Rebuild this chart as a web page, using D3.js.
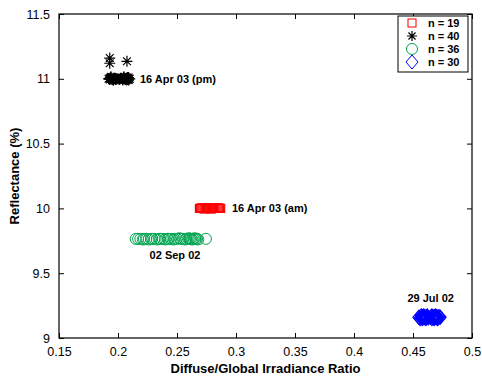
<!DOCTYPE html>
<html><head><meta charset="utf-8">
<script src="https://cdn.jsdelivr.net/npm/d3@7"></script>
<style>body{margin:0;background:#fff}svg{display:block}text{font-family:"Liberation Sans",Arial,sans-serif}</style>
</head><body><svg id="c" width="482" height="378"></svg>
<script>
const xTicks=[0.15,0.2,0.25,0.3,0.35,0.4,0.45,0.5];
const yTicks=[9,9.5,10,10.5,11,11.5];
const blackX=[0.192,0.193,0.193,0.194,0.194,0.195,0.195,0.196,0.196,0.197,0.197,0.198,0.198,0.199,0.200,0.201,0.202,0.203,0.204,0.204,0.205,0.205,0.206,0.206,0.207,0.207,0.208,0.208,0.208,0.209,0.209,0.210,0.194,0.196,0.205,0.207,0.209,0.193,0.193,0.2076];
const blackY=[11.0,11.005,10.995,11.0,11.01,10.995,11.0,11.005,10.99,11.0,11.0,10.995,11.005,11.0,11.0,10.995,11.0,11.005,11.0,10.99,11.0,11.01,10.995,11.0,11.005,11.0,10.995,11.0,11.01,11.0,10.99,11.0,11.015,10.99,11.015,10.99,11.01,11.16,11.12,11.135];
const redX=[0.269,0.270,0.271,0.272,0.273,0.274,0.275,0.276,0.277,0.278,0.279,0.280,0.281,0.282,0.283,0.284,0.285,0.286,0.287];
const redY=[10.0,10.0,10.005,10.0,9.995,10.0,10.0,10.005,10.0,10.0,9.995,10.0,10.005,10.0,10.0,10.0,10.005,10.0,10.0];
const greenX=[0.215,0.217,0.219,0.221,0.222,0.224,0.226,0.228,0.229,0.231,0.233,0.235,0.236,0.238,0.240,0.242,0.243,0.245,0.247,0.248,0.250,0.252,0.253,0.255,0.257,0.258,0.260,0.261,0.262,0.263,0.264,0.265,0.266,0.267,0.268,0.2745];
const greenY=[9.765,9.765,9.765,9.76,9.765,9.765,9.76,9.765,9.765,9.765,9.76,9.765,9.765,9.765,9.76,9.765,9.765,9.765,9.76,9.765,9.765,9.77,9.765,9.765,9.76,9.765,9.77,9.765,9.765,9.76,9.765,9.77,9.765,9.765,9.76,9.765];
const blueX=[0.455,0.456,0.457,0.457,0.458,0.458,0.459,0.459,0.460,0.460,0.461,0.461,0.462,0.462,0.463,0.465,0.466,0.466,0.467,0.467,0.468,0.468,0.469,0.469,0.470,0.470,0.471,0.471,0.472,0.473];
const blueY=[9.16,9.15,9.17,9.155,9.165,9.15,9.16,9.17,9.155,9.165,9.16,9.15,9.17,9.16,9.155,9.16,9.15,9.17,9.155,9.165,9.16,9.15,9.17,9.16,9.155,9.165,9.16,9.15,9.165,9.16];
const legendLabels=["n = 19","n = 40","n = 36","n = 30"];
const annotations=[
 {text:"16 Apr 03 (pm)",x:0.2186,y:11.0,anchor:"start"},
 {text:"16 Apr 03 (am)",x:0.2966,y:10.0,anchor:"start"},
 {text:"02 Sep 02",x:0.2483,y:9.64,anchor:"middle"},
 {text:"29 Jul 02",x:0.465,y:9.31,anchor:"middle"}];

const svg=d3.select("#c");
const L=59,R=472,T=14,B=338;
const x=d3.scaleLinear().domain([0.15,0.5]).range([L,R]);
const y=d3.scaleLinear().domain([9,11.5]).range([B,T]);
const fmt=d=>String(d);

svg.append("g").attr("transform",`translate(0,${B})`).call(d3.axisBottom(x).tickValues(xTicks).tickFormat(fmt).tickSizeInner(-5).tickSizeOuter(0).tickPadding(9));
svg.append("g").attr("transform",`translate(0,${T})`).call(d3.axisTop(x).tickValues(xTicks).tickFormat("").tickSizeInner(-5).tickSizeOuter(0));
svg.append("g").attr("transform",`translate(${L},0)`).call(d3.axisLeft(y).tickValues(yTicks).tickFormat(fmt).tickSizeInner(-5).tickSizeOuter(0).tickPadding(9));
svg.append("g").attr("transform",`translate(${R},0)`).call(d3.axisRight(y).tickValues(yTicks).tickFormat("").tickSizeInner(-5).tickSizeOuter(0));
svg.selectAll(".domain").remove();
svg.selectAll(".tick line").attr("stroke","#000");
svg.selectAll(".tick text").attr("font-size",12.5).attr("fill","#000").style("font-family","Liberation Sans, Arial, sans-serif");
svg.append("rect").attr("x",L).attr("y",T).attr("width",R-L).attr("height",B-T).attr("fill","none").attr("stroke","#000").attr("stroke-width",1.2);

const g=svg.append("g");
const star=(sel,cx,cy,s)=>{const p=[];for(let k=0;k<4;k++){const a=k*Math.PI/4;p.push(`M${cx-s*Math.cos(a)},${cy-s*Math.sin(a)}L${cx+s*Math.cos(a)},${cy+s*Math.sin(a)}`);}sel.append("path").attr("d",p.join("")).attr("stroke","#000").attr("stroke-width",1.2).attr("fill","none");};
blackX.forEach((v,i)=>star(g,x(v),y(blackY[i]),5.5));
g.selectAll(".sq").data(redX).enter().append("rect").attr("x",(d)=>x(d)-4).attr("y",(d,i)=>y(redY[i])-4).attr("width",8).attr("height",8).attr("fill","none").attr("stroke","#f00").attr("stroke-width",1.2);
g.selectAll(".ci").data(greenX).enter().append("circle").attr("cx",d=>x(d)).attr("cy",(d,i)=>y(greenY[i])).attr("r",5.5).attr("fill","none").attr("stroke","#00a550").attr("stroke-width",1);
g.selectAll(".di").data(blueX).enter().append("path").attr("d",(d,i)=>{const cx=x(d),cy=y(blueY[i]);return `M${cx},${cy-7}L${cx+6},${cy}L${cx},${cy+7}L${cx-6},${cy}Z`;}).attr("fill","none").attr("stroke","#00f").attr("stroke-width",1.2);

annotations.forEach(a=>svg.append("text").attr("x",x(a.x)).attr("y",y(a.y)).attr("dy","0.35em").attr("text-anchor",a.anchor).attr("font-size",11).attr("font-weight","bold").text(a.text));

const lg=svg.append("g");
lg.append("rect").attr("x",398).attr("y",16).attr("width",70).attr("height",56).attr("fill","#fff").attr("stroke","#000");
const rowY=[23,36,49,62];
const mx=412;
lg.append("rect").attr("x",mx-4).attr("y",rowY[0]-4).attr("width",8).attr("height",8).attr("fill","none").attr("stroke","#f00");
star(lg,mx,rowY[1],5);
lg.append("circle").attr("cx",mx).attr("cy",rowY[2]).attr("r",5.5).attr("fill","none").attr("stroke","#00a550");
lg.append("path").attr("d",`M${mx},${rowY[3]-7}L${mx+6},${rowY[3]}L${mx},${rowY[3]+7}L${mx-6},${rowY[3]}Z`).attr("fill","none").attr("stroke","#00f");
legendLabels.forEach((t,i)=>lg.append("text").attr("x",428).attr("y",rowY[i]).attr("dy","0.35em").attr("font-size",11).attr("font-weight","bold").text(t));

svg.append("text").attr("x",(L+R)/2).attr("y",373).attr("text-anchor","middle").attr("font-size",13).attr("font-weight","bold").text("Diffuse/Global Irradiance Ratio");
svg.append("text").attr("transform",`translate(19,${(T+B)/2}) rotate(-90)`).attr("text-anchor","middle").attr("font-size",13).attr("font-weight","bold").text("Reflectance (%)");
</script></body></html>
